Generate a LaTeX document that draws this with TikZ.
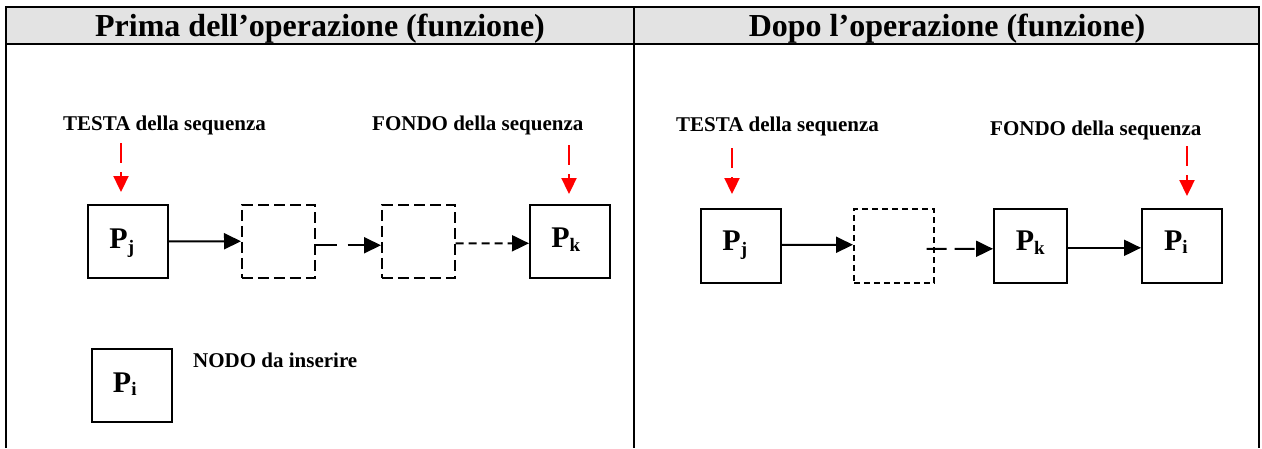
\documentclass[tikz,border=0pt]{standalone}
\usepackage{fontspec}
\setmainfont{Liberation Serif}
\usetikzlibrary{arrows.meta}
\definecolor{hdrgray}{RGB}{227,227,227}
\definecolor{redarr}{RGB}{255,0,0}
\begin{document}
\begin{tikzpicture}[x=1pt,y=-1pt,
  frame/.style={line width=2.2pt},
  hdrtext/.style={font=\fontsize{32}{32}\selectfont\bfseries, anchor=base, inner sep=0pt},
  lbltext/.style={font=\fontsize{21}{21}\selectfont\bfseries, anchor=base west, inner sep=0pt},
  plabel/.style={font=\fontsize{30}{30}\selectfont\bfseries, anchor=base, inner sep=0pt},
  solidbox/.style={draw, line width=1.6pt, minimum height=73pt, inner sep=0pt, anchor=north west},
  longdashbox/.style={draw, line width=1.5pt, dash pattern=on 11pt off 5pt, minimum height=73pt, inner sep=0pt, anchor=north west},
  shortdashbox/.style={draw, line width=1.5pt, dash pattern=on 6pt off 4pt, minimum height=74pt, inner sep=0pt, anchor=north west},
  blkarrow/.style={line width=2pt, -{Triangle[length=17pt,width=16pt]}},
  redarrow/.style={redarr, line width=2.3pt, dash pattern=on 20pt off 9pt, -{Triangle[length=16pt,width=15pt]}}
]
\useasboundingbox (0,0) rectangle (1262,448);
% table
\fill[hdrgray] (6,7) rectangle (1259,44);
\draw[frame] (6,448) -- (6,7) -- (1259,7) -- (1259,448);
\draw[frame] (6,44) -- (1259,44);
\draw[frame] (634,7) -- (634,448);
\node[hdrtext] (h1) at (320,36) {Prima dell’operazione (funzione)};
\node[hdrtext] (h2) at (947,36) {Dopo l’operazione (funzione)};

% ---- left panel ----
\node[lbltext] (testaL) at (63,130) {TESTA della sequenza};
\node[lbltext] (fondoL) at (372,130) {FONDO della sequenza};
\node[solidbox, minimum width=80pt] (pjL) at (87,204) {};
\node[longdashbox, minimum width=73pt] (d1L) at (241,204) {};
\node[longdashbox, minimum width=73pt] (d2L) at (381,204) {};
\node[solidbox, minimum width=80pt] (pkL) at (529,204) {};
\node[plabel] (tpjL) at ([xshift=-6pt,yshift=-7pt]pjL.center) {P\raisebox{-5pt}{\fontsize{19}{19}\selectfont j}};
\node[plabel] (tpkL) at ([xshift=-4pt,yshift=-6pt]pkL.center) {P\raisebox{-4pt}{\fontsize{19}{19}\selectfont k}};
\coordinate (r1s) at (121,143);
\coordinate (r1e) at (121,192);
\coordinate (r2s) at (569,145);
\coordinate (r2e) at (569,194);
\draw[redarrow] (r1s) -- (r1e);
\draw[redarrow] (r2s) -- (r2e);
\draw[blkarrow] (pjL.east) -- (d1L.west);
\draw[blkarrow, dash pattern=on 21pt off 11pt] ([yshift=-4pt]d1L.east) -- ([yshift=-4pt]d2L.west);
\draw[blkarrow, dash pattern=on 8pt off 5pt] ([yshift=-2pt]d2L.east) -- ([yshift=-2pt]pkL.west);
\node[solidbox, minimum width=80pt] (piL) at (91,348) {};
\node[plabel] (tpiL) at ([xshift=-7pt,yshift=-7pt]piL.center) {P\raisebox{-3pt}{\fontsize{19}{19}\selectfont i}};
\node[lbltext] (nodo) at (193,367) {NODO da inserire};

% ---- right panel ----
\node[lbltext] (testaR) at (676,131) {TESTA della sequenza};
\node[lbltext] (fondoR) at (990,135) {FONDO della sequenza};
\node[solidbox, minimum width=80pt, minimum height=74pt] (pjR) at (700,208) {};
\node[shortdashbox, minimum width=80pt] (dR) at (853,208) {};
\node[solidbox, minimum width=73pt, minimum height=74pt] (pkR) at (993,208) {};
\node[solidbox, minimum width=80pt, minimum height=74pt] (piR) at (1141,208) {};
\node[plabel] (tpjR) at ([xshift=-6pt,yshift=-5pt]pjR.center) {P\raisebox{-5pt}{\fontsize{19}{19}\selectfont j}};
\node[plabel] (tpkR) at ([xshift=0pt,yshift=-5pt]pkR.center) {P\raisebox{-4pt}{\fontsize{19}{19}\selectfont k}};
\node[plabel] (tpiR) at ([xshift=-6pt,yshift=-5pt]piR.center) {P\raisebox{-3pt}{\fontsize{19}{19}\selectfont i}};
\coordinate (r3s) at (732,148);
\coordinate (r3e) at (732,194);
\coordinate (r4s) at (1187,146);
\coordinate (r4e) at (1187,196);
\draw[redarrow] (r3s) -- (r3e);
\draw[redarrow] (r4s) -- (r4e);
\draw[blkarrow] ([yshift=1pt]pjR.east) -- ([yshift=1pt]dR.west);
\draw[blkarrow, dash pattern=on 20pt off 8pt] ([xshift=-8pt,yshift=-3pt]dR.east) -- ([yshift=-3pt]pkR.west);
\draw[blkarrow] ([yshift=-2pt]pkR.east) -- ([yshift=-2pt]piR.west);
\end{tikzpicture}
\end{document}
